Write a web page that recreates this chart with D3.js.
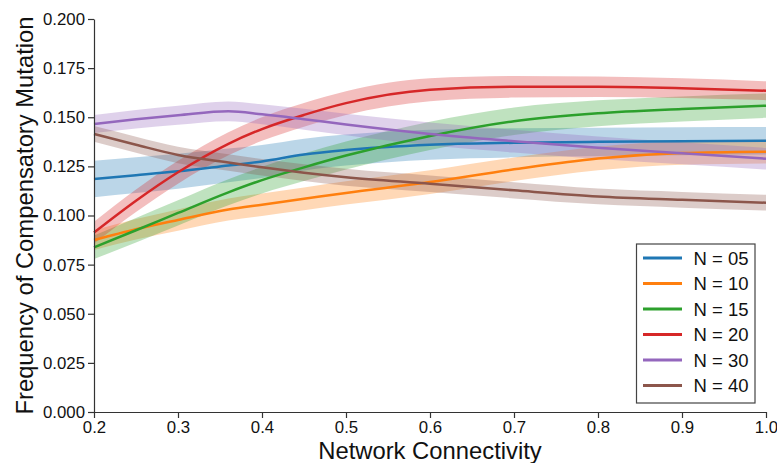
<!DOCTYPE html>
<html>
<head>
<meta charset="utf-8">
<script src="https://cdn.jsdelivr.net/npm/d3@7"></script>
<style>
  body { margin: 0; background: #fff; }
  svg { font-family: "Liberation Sans", Arial, sans-serif; }
  .axis text { font-size: 16.8px; fill: #111; }
  .axis path, .axis line { stroke: #333; stroke-width: 1.2; }
  .axisLabel { font-size: 23.8px; fill: #111; }
</style>
</head>
<body>
<svg id="chart"></svg>
<script>
// connectivity values
const xs = [0.2, 0.25, 0.3, 0.36, 0.4, 0.45, 0.5, 0.6, 0.7, 0.8, 0.9, 1.0];

const labels = ["N = 05", "N = 10", "N = 15", "N = 20", "N = 30", "N = 40"];
const colors = ["#1f77b4", "#ff7f0e", "#2ca02c", "#d62728", "#9467bd", "#8c564b"];

// mean frequency per group
const n05 = [0.1186, 0.1205, 0.1225, 0.1255, 0.1275, 0.1310, 0.1333, 0.1360, 0.1370, 0.1375, 0.1378, 0.1380];
const n10 = [0.0875, 0.0930, 0.0977, 0.1030, 0.1055, 0.1085, 0.1115, 0.1170, 0.1235, 0.1290, 0.1318, 0.1325];
const n15 = [0.0838, 0.0925, 0.1013, 0.1118, 0.1180, 0.1245, 0.1305, 0.1405, 0.1480, 0.1520, 0.1542, 0.1559];
const n20 = [0.0913, 0.1075, 0.1220, 0.1365, 0.1440, 0.1512, 0.1572, 0.1640, 0.1655, 0.1655, 0.1648, 0.1635];
const n30 = [0.1466, 0.1490, 0.1510, 0.1530, 0.1515, 0.1490, 0.1463, 0.1415, 0.1378, 0.1345, 0.1317, 0.1289];
const n40 = [0.1415, 0.1360, 0.1308, 0.1270, 0.1245, 0.1218, 0.1195, 0.1162, 0.1128, 0.1097, 0.1080, 0.1065];

// half width of the confidence band
const ci05 = [0.0093, 0.0091, 0.0089, 0.0086, 0.0084, 0.0081, 0.0079, 0.0076, 0.0074, 0.0072, 0.0071, 0.0070];
const ci10 = [0.0050, 0.0052, 0.0054, 0.0056, 0.0057, 0.0058, 0.0059, 0.0060, 0.0060, 0.0060, 0.0060, 0.0060];
const ci15 = [0.0060, 0.0062, 0.0064, 0.0066, 0.0068, 0.0070, 0.0071, 0.0072, 0.0070, 0.0066, 0.0064, 0.0062];
const ci20 = [0.0055, 0.0057, 0.0058, 0.0059, 0.0060, 0.0060, 0.0060, 0.0058, 0.0055, 0.0052, 0.0050, 0.0048];
const ci30 = [0.0046, 0.0047, 0.0048, 0.0050, 0.0051, 0.0053, 0.0055, 0.0058, 0.0058, 0.0057, 0.0056, 0.0055];
const ci40 = [0.0040, 0.0041, 0.0042, 0.0042, 0.0042, 0.0043, 0.0043, 0.0042, 0.0041, 0.0040, 0.0040, 0.0040];

const yTicks = [0, 0.025, 0.05, 0.075, 0.1, 0.125, 0.15, 0.175, 0.2];
const xTicks = [0.2, 0.3, 0.4, 0.5, 0.6, 0.7, 0.8, 0.9, 1.0];

const means = [n05, n10, n15, n20, n30, n40];
const cis = [ci05, ci10, ci15, ci20, ci30, ci40];

const W = 777, H = 463;
const margin = { top: 19, right: 11, bottom: 51, left: 94 };
const width = W - margin.left - margin.right;
const height = H - margin.top - margin.bottom;

const x = d3.scaleLinear().domain([0.2, 1.0]).range([0, width]);
const y = d3.scaleLinear().domain([0, 0.2]).range([height, 0]);

const svg = d3.select("#chart")
    .attr("width", W)
    .attr("height", H)
    .append("g")
    .attr("transform", "translate(" + margin.left + "," + margin.top + ")");

const series = means.map((m, i) => xs.map((v, j) => ({ x: v, y: m[j], ci: cis[i][j] })));

const area = d3.area()
    .curve(d3.curveMonotoneX)
    .x(d => x(d.x))
    .y0(d => y(d.y - d.ci))
    .y1(d => y(d.y + d.ci));

const line = d3.line()
    .curve(d3.curveMonotoneX)
    .x(d => x(d.x))
    .y(d => y(d.y));

series.forEach((s, i) => {
    svg.append("path")
        .attr("d", area(s))
        .attr("fill", colors[i])
        .attr("fill-opacity", 0.3);
});

series.forEach((s, i) => {
    svg.append("path")
        .attr("d", line(s))
        .attr("fill", "none")
        .attr("stroke", colors[i])
        .attr("stroke-width", 2.5);
});

// x axis
svg.append("g")
    .attr("class", "axis")
    .attr("transform", "translate(0," + height + ")")
    .call(d3.axisBottom(x).tickValues(xTicks).tickFormat(d3.format(".1f"))
        .tickSize(6).tickSizeOuter(0).tickPadding(3));

// y axis
svg.append("g")
    .attr("class", "axis")
    .call(d3.axisLeft(y).tickValues(yTicks).tickFormat(d3.format(".3f"))
        .tickSize(6).tickSizeOuter(0).tickPadding(3));

svg.append("text")
    .attr("class", "axisLabel")
    .attr("text-anchor", "middle")
    .attr("x", width / 2)
    .attr("y", height + 47)
    .text("Network Connectivity");

svg.append("text")
    .attr("class", "axisLabel")
    .attr("text-anchor", "middle")
    .attr("transform", "rotate(-90)")
    .attr("x", -height / 2)
    .attr("y", -61)
    .text("Frequency of Compensatory Mutation");

// legend
const legend = svg.append("g")
    .attr("transform", "translate(" + (636.5 - margin.left) + "," + (244 - margin.top) + ")");

legend.append("rect")
    .attr("width", 118.5)
    .attr("height", 159)
    .attr("fill", "#fff")
    .attr("stroke", "#444")
    .attr("stroke-width", 1.2);

labels.forEach((lab, i) => {
    const yy = 14 + i * 25.5;
    legend.append("line")
        .attr("x1", 6.5).attr("x2", 45.5)
        .attr("y1", yy).attr("y2", yy)
        .attr("stroke", colors[i])
        .attr("stroke-width", 2.8);
    legend.append("text")
        .attr("x", 57)
        .attr("y", yy)
        .attr("dy", "0.36em")
        .style("font-size", "18.5px")
        .attr("fill", "#111")
        .text(lab);
});
</script>
</body>
</html>
